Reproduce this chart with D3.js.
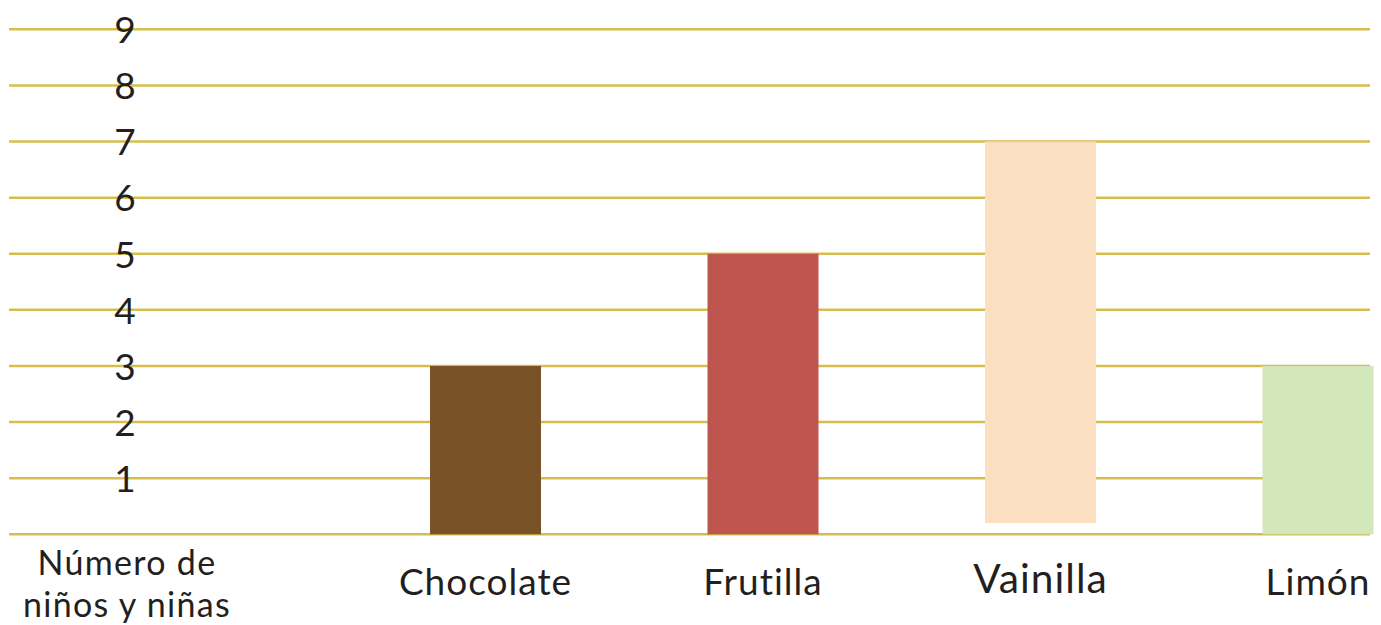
<!DOCTYPE html>
<html>
<head>
<meta charset="utf-8">
<script src="https://cdn.jsdelivr.net/npm/d3@7/dist/d3.min.js"></script>
<style>
  html, body { margin: 0; padding: 0; background: #ffffff; }
  svg { display: block; }
  text { font-family: Lato, "Noto Sans", sans-serif; fill: #231f20; }
</style>
</head>
<body>
<svg id="chart" width="1381" height="625"></svg>
<script>
// Helados preferidos: number of children per flavour
const flavours = ["Chocolate", "Frutilla", "Vainilla", "Limón"];
const children = [3, 5, 7, 3];
const barBase = [0, 0, 0.2, 0];
const barColors = ["#7a5228", "#bf554f", "#fcdfc0", "#d2e7ba"];
const yTicks = [0, 1, 2, 3, 4, 5, 6, 7, 8, 9];
const yTickLabels = ["", "1", "2", "3", "4", "5", "6", "7", "8", "9"];
const axisTitle = ["Número de", "niños y niñas"];
const labelScale = [1, 1, 1.1, 1];

const svg = d3.select("#chart");

const gridLeft = 9, gridRight = 1370;
const y = d3.scaleLinear().domain([0, 9]).range([534.3, 29.3]);
const x = d3.scaleBand()
  .domain(flavours)
  .range([430, 1373.5])
  .paddingInner(0.6)
  .paddingOuter(0);

// horizontal gridlines
svg.append("g")
  .selectAll("line")
  .data(yTicks)
  .join("line")
  .attr("x1", gridLeft)
  .attr("x2", gridRight)
  .attr("y1", d => y(d))
  .attr("y2", d => y(d))
  .attr("stroke", "#d5bd4e")
  .attr("stroke-width", 2.5);

// value labels sitting on the gridlines
const yAxis = d3.axisLeft(y)
  .tickValues(yTicks)
  .tickSize(0)
  .tickFormat((d, i) => yTickLabels[i]);
const ga = svg.append("g")
  .attr("transform", "translate(125,0)")
  .call(yAxis);
ga.select(".domain").remove();
ga.selectAll("text")
  .attr("x", 0)
  .attr("text-anchor", "middle")
  .attr("dy", "0.36em")
  .style("font-family", "Lato, sans-serif")
  .style("font-size", "37px")
  .style("fill", "#231f20");

// bars
svg.append("g")
  .selectAll("rect")
  .data(flavours)
  .join("rect")
  .attr("x", d => x(d))
  .attr("width", x.bandwidth())
  .attr("y", (d, i) => y(children[i]))
  .attr("height", (d, i) => y(barBase[i]) - y(children[i]))
  .attr("fill", (d, i) => barColors[i]);

// category labels
svg.append("g")
  .selectAll("text")
  .data(flavours)
  .join("text")
  .attr("x", d => x(d) + x.bandwidth() / 2)
  .attr("y", (d, i) => i === 2 ? 593 : 595)
  .attr("text-anchor", "middle")
  .style("font-size", (d, i) => (37 * labelScale[i]) + "px")
  .style("letter-spacing", "1px")
  .text(d => d);

// axis title in the first column, one text per line
svg.append("g")
  .selectAll("text")
  .data(axisTitle)
  .join("text")
  .attr("x", 127)
  .attr("y", (d, i) => 575 + i * 41.5)
  .attr("text-anchor", "middle")
  .style("font-size", "34px")
  .style("letter-spacing", "1.3px")
  .text(d => d);
</script>
</body>
</html>
